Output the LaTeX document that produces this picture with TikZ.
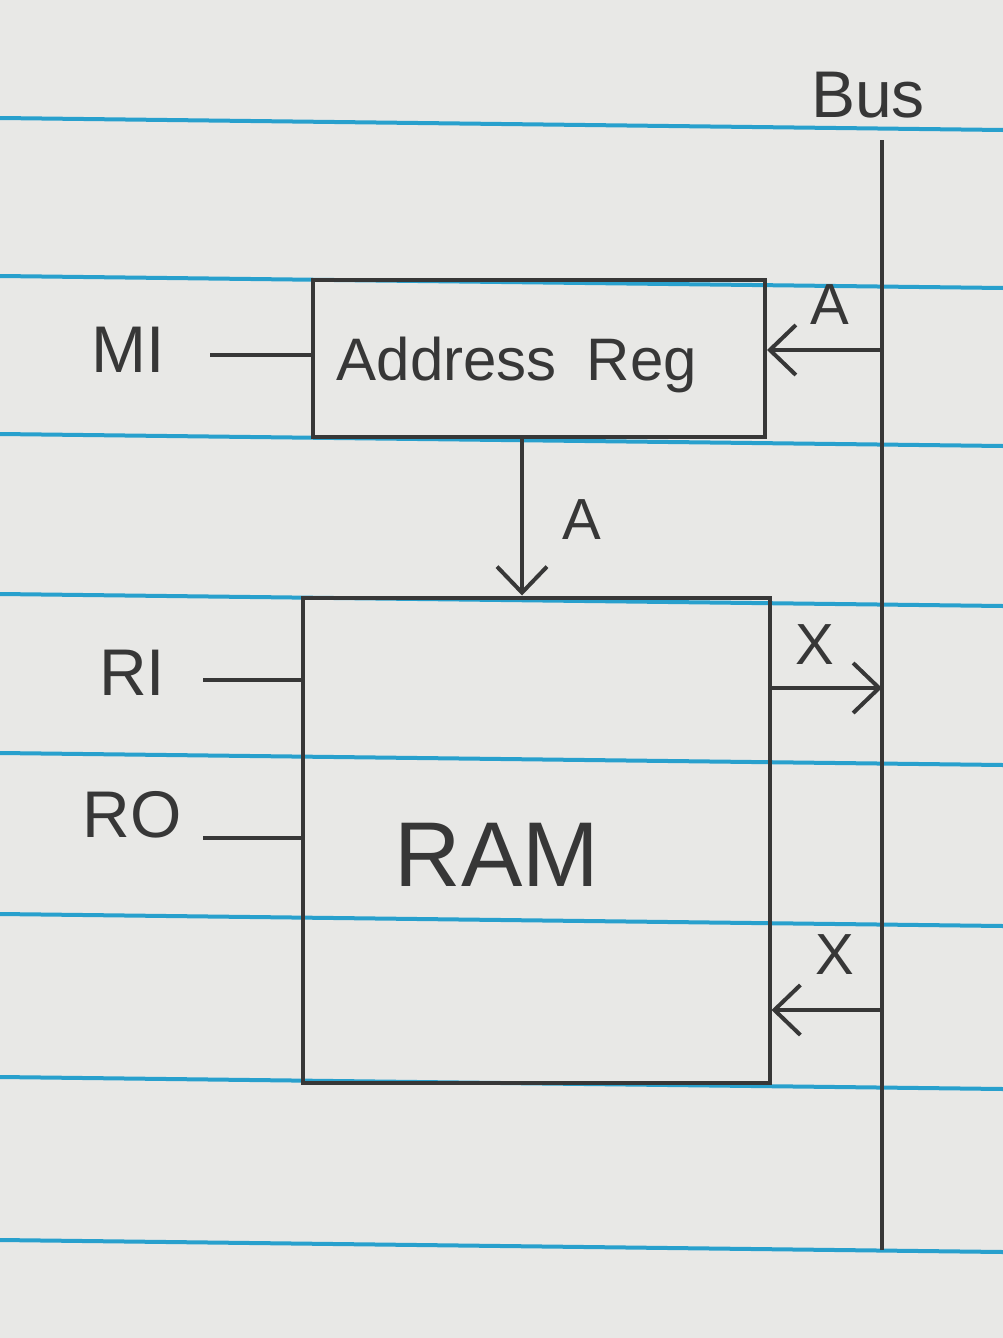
\documentclass[tikz,border=0pt]{standalone}
\usepackage{fontspec}
\setmainfont{Liberation Sans}
\usetikzlibrary{arrows.meta}
\definecolor{paper}{RGB}{232,232,230}
\definecolor{rule}{RGB}{40,160,205}
\definecolor{ink}{RGB}{55,55,55}
\begin{document}
\begin{tikzpicture}[x=1pt,y=-1pt,
  ink/.style={draw=ink,line width=4pt},
  box/.style={ink,rectangle,inner sep=0pt},
  lbl/.style={text=ink,font=\fontsize{58}{60}\selectfont,inner sep=0pt},
  sig/.style={text=ink,font=\fontsize{66}{68}\selectfont,inner sep=0pt},
  arr/.style={ink,-{Straight Barb[length=26pt,width=50pt,line width=4pt]}},
  ruleline/.style={draw=rule,line width=4pt}]
\useasboundingbox (0,0) rectangle (1003,1338);
\fill[paper] (0,0) rectangle (1003,1338);
% ruled paper lines
\foreach \y in {118,276,434,594,753,914,1077,1240}
  \draw[ruleline] (0,\y) -- (1003,\y+12);
% bus
\coordinate (bustop) at (882,140);
\coordinate (busbot) at (882,1250);
\draw[ink] (bustop) -- (busbot);
\node[lbl,font=\fontsize{66}{68}\selectfont] (buslbl) at (868,95) {Bus};
% address register
\node[box,minimum width=452pt,minimum height=157pt] (addr) at (539,358) {};
\node[lbl,font=\fontsize{60}{62}\selectfont] (addrtxt) at (517,365) {Address\hspace{0.5em}Reg};
% RAM
\node[box,minimum width=467pt,minimum height=485pt] (ram) at (536,840) {};
\node[lbl,font=\fontsize{92}{94}\selectfont] (ramtxt) at (497,855) {RAM};
% control signals
\node[sig] (mi) at (128,350) {MI};
\node[sig] (ri) at (132,673) {RI};
\node[sig] (ro) at (132,815) {RO};
\coordinate (mis) at (210,355);
\coordinate (ris) at (203,680);
\coordinate (ros) at (203,838);
\draw[ink] (mis) -- (addr.west |- mis);
\draw[ink] (ris) -- (ram.west |- ris);
\draw[ink] (ros) -- (ram.west |- ros);
% bus -> address reg
\coordinate (b1) at (882,350);
\draw[arr] (b1) -- (addr.east |- b1);
\node[lbl] (a1) at (830,305) {A};
% address reg -> RAM
\draw[arr] (addr.south -| 522,0) -- (ram.north -| 522,0);
\node[lbl] (a2) at (582,520) {A};
% RAM -> bus
\coordinate (b2) at (882,688);
\draw[arr] (ram.east |- b2) -- (b2);
\node[lbl] (x1) at (815,645) {X};
% bus -> RAM
\coordinate (b3) at (882,1010);
\draw[arr] (b3) -- (ram.east |- b3);
\node[lbl] (x2) at (835,955) {X};
\end{tikzpicture}
\end{document}
